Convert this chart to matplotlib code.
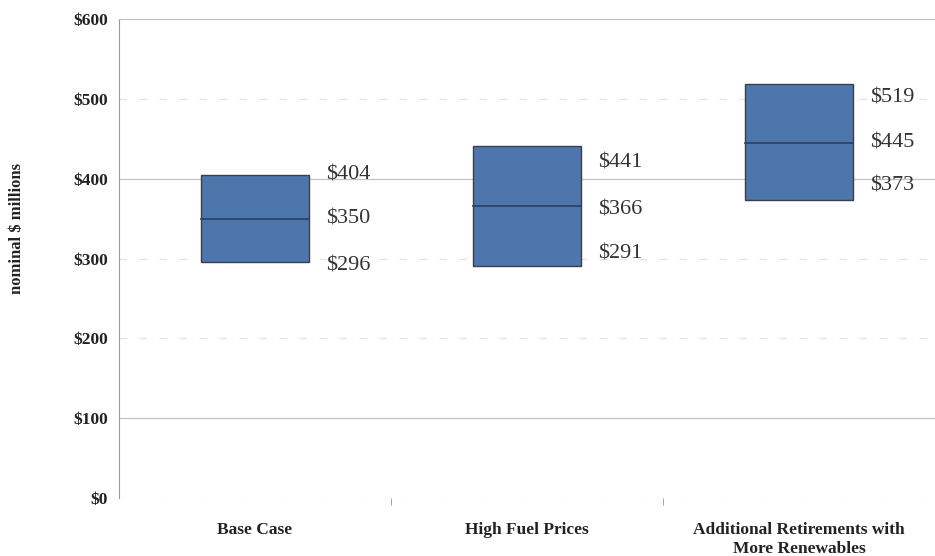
import matplotlib.pyplot as plt
import matplotlib.ticker as mticker
from matplotlib.patches import Rectangle

plt.rcParams['font.family'] = ['Liberation Serif', 'DejaVu Serif']

categories = ["Base Case", "High Fuel Prices", "Additional Retirements with\nMore Renewables"]
low_values = [296, 291, 373]
mid_values = [350, 366, 445]
high_values = [404, 441, 519]
y_ticks = [0, 100, 200, 300, 400, 500, 600]

# vertical nudges (pixels) for the low / mid / high value labels
label_nudge = [(-4, 0, 0), (12, -4, -17), (14, 0, -14)]

fig = plt.figure(figsize=(9.35, 5.56), dpi=100)
ax = fig.add_axes([119 / 935, 58 / 556, 816 / 935, 479 / 556])

box_w = 0.40
face = "#4d76ad"
edge = "#3a3f4a"

for i, (lo, md, hi) in enumerate(zip(low_values, mid_values, high_values)):
    ax.add_patch(Rectangle((i - box_w / 2, lo), box_w, hi - lo,
                           facecolor=face, edgecolor=edge, linewidth=1.0, zorder=3))
    ax.plot([i - box_w / 2, i + box_w / 2], [md, md], color="#2c3f5e", lw=1.2, zorder=4)
    for val, dy in zip((lo, md, hi), label_nudge[i]):
        ax.annotate(f"${val}", xy=(i + box_w / 2, val), xytext=(17, dy),
                    textcoords="offset pixels", ha="left", va="center",
                    fontsize=16, color="#333333", zorder=5)

ax.set_xlim(-0.5, len(categories) - 0.5)
ax.set_ylim(0, 600)
ax.set_yticks(y_ticks)
ax.yaxis.set_major_formatter(mticker.FuncFormatter(lambda v, p: f"${v:.0f}"))
ax.set_xticks(range(len(categories)))
ax.set_xticklabels(categories, fontsize=12.5, fontweight="bold", color="#222222",
                   linespacing=1.3)
ax.set_xticks([0.5, 1.5], minor=True)
ax.tick_params(axis="x", which="major", length=0, pad=17)
ax.tick_params(axis="x", which="minor", length=5, direction="out", color="#999999")
ax.tick_params(axis="y", length=0, pad=8, labelsize=12.5, labelcolor="#222222")
for lbl in ax.get_yticklabels():
    lbl.set_fontweight("bold")

# solid rules at $100 and $400, fainter broken rules elsewhere
for v in y_ticks:
    if v in (100, 400):
        ax.axhline(v, color="#c4c4c4", linewidth=0.9, zorder=0)
    elif v != 600:
        ax.axhline(v, color="#e2e2e2", linewidth=0.9, linestyle=(0, (6, 10)), zorder=0)

for side in ("right", "bottom"):
    ax.spines[side].set_visible(False)
ax.spines["top"].set_color("#bbbbbb")
ax.spines["left"].set_color("#999999")

ax.set_ylabel("nominal $ millions", fontsize=12, fontweight="bold", color="#222222")
ax.yaxis.set_label_coords(-(119 - 25) / 816, (498 - 228) / 479)

fig.savefig("out.png", dpi=100)
